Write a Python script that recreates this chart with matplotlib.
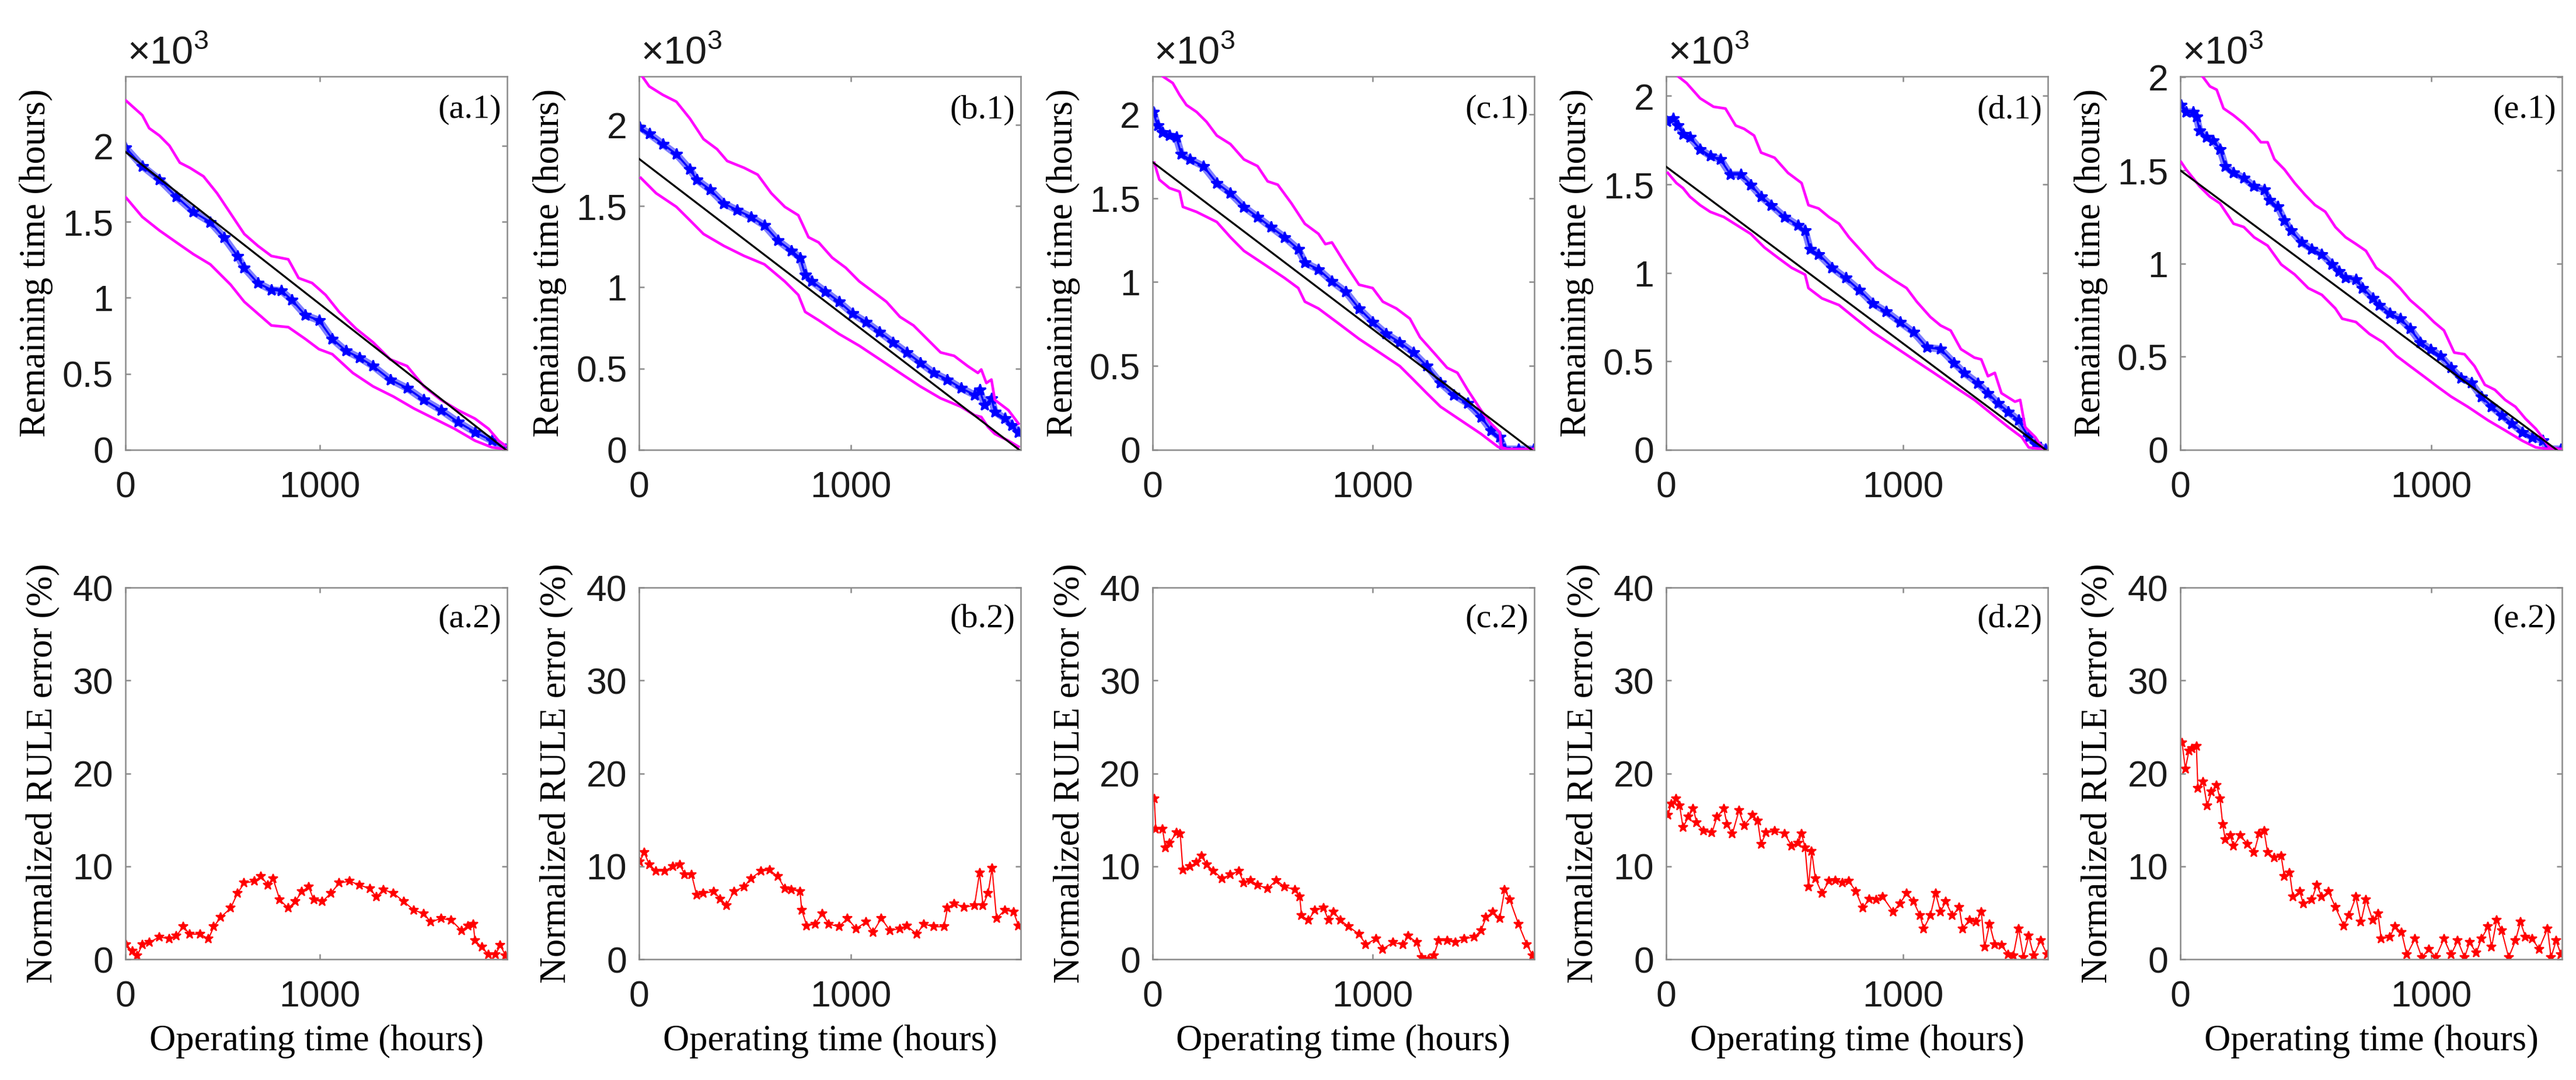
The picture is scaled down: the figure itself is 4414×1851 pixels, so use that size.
import matplotlib
matplotlib.use('Agg')
import matplotlib.pyplot as plt

plt.rcParams.update({
    'font.family': 'Liberation Sans',
    'mathtext.fontset': 'custom',
    'mathtext.rm': 'Liberation Sans',
    'axes.linewidth': 0.6,
    'axes.edgecolor': '#8a8a8a',
})

# ---------------- data (RUL in x10^3 hours, time in hours, error in %) -------------
panel_ids = ['a', 'b', 'c', 'd', 'e']

# (a) -----------------------------------------------------------------
t_pred_a = [0, 87, 175, 262, 350, 437, 507, 577, 612, 682, 752, 804, 857, 927, 997, 1066,
            1136, 1206, 1276, 1364, 1451, 1538, 1626, 1713, 1801, 1888, 1958]
pred_a = [1.989, 1.866, 1.777, 1.666, 1.565, 1.498, 1.398, 1.275, 1.197, 1.097, 1.052, 1.046,
          0.986, 0.885, 0.852, 0.729, 0.651, 0.606, 0.551, 0.462, 0.406, 0.328, 0.261, 0.183,
          0.116, 0.060, 0.004]
t_up_a = [3, 87, 122, 175, 227, 280, 332, 402, 472, 542, 612, 682, 752, 839, 892, 962, 1031,
          1101, 1189, 1276, 1364, 1451, 1538, 1626, 1713, 1801, 1871, 1923, 1958]
up_a = [2.297, 2.201, 2.116, 2.067, 2.000, 1.889, 1.855, 1.799, 1.688, 1.554, 1.420, 1.342,
        1.275, 1.253, 1.130, 1.097, 1.019, 0.907, 0.796, 0.707, 0.595, 0.551, 0.417, 0.328,
        0.261, 0.205, 0.138, 0.060, 0.027]
t_lo_a = [3, 87, 175, 262, 350, 437, 542, 612, 682, 752, 839, 927, 997, 1066, 1171, 1276,
          1381, 1486, 1591, 1696, 1801, 1888, 1958]
lo_a = [1.659, 1.532, 1.443, 1.365, 1.287, 1.220, 1.086, 0.974, 0.896, 0.818, 0.807, 0.729,
        0.662, 0.629, 0.506, 0.417, 0.350, 0.272, 0.205, 0.138, 0.060, 0.016, 0.004]
true_t_a = [0, 1960]
true_a = [1.96, 0.0]
t_err_a = [3, 35, 61, 87, 122, 175, 227, 262, 297, 332, 385, 428, 455, 490, 542, 577, 612,
           664, 699, 734, 760, 795, 839, 874, 909, 944, 970, 1014, 1058, 1101, 1154, 1206,
           1259, 1294, 1329, 1381, 1434, 1486, 1538, 1573, 1626, 1678, 1731, 1766, 1792,
           1801, 1836, 1871, 1906, 1932, 1958]
err_a = [1.6, 0.9, 0.4, 1.6, 1.8, 2.4, 2.2, 2.5, 3.5, 2.7, 2.7, 2.2, 3.5, 4.5, 5.5, 7.1, 8.2,
         8.4, 8.9, 8.0, 8.7, 6.4, 5.5, 6.2, 7.3, 7.8, 6.4, 6.2, 7.1, 8.2, 8.4, 8.0, 7.6, 6.7,
         7.5, 7.1, 6.2, 5.3, 4.9, 4.0, 4.4, 4.2, 3.1, 3.6, 3.8, 2.0, 1.3, 0.5, 0.5, 1.5, 0.4]

# (b) -----------------------------------------------------------------
t_pred_b = [3, 48, 112, 176, 240, 272, 336, 400, 464, 528, 592, 656, 720, 760, 784, 816, 880,
            944, 1008, 1072, 1136, 1200, 1264, 1328, 1392, 1456, 1520, 1584, 1608, 1632,
            1664, 1680, 1728, 1760, 1792]
pred_b = [1.985, 1.944, 1.881, 1.819, 1.725, 1.662, 1.600, 1.516, 1.474, 1.433, 1.381, 1.287,
          1.224, 1.182, 1.078, 1.036, 0.974, 0.911, 0.838, 0.786, 0.724, 0.661, 0.599, 0.536,
          0.473, 0.432, 0.380, 0.338, 0.369, 0.275, 0.317, 0.234, 0.192, 0.150, 0.108]
t_up_b = [8, 48, 112, 176, 240, 304, 368, 416, 496, 560, 624, 688, 752, 800, 848, 912, 976,
          1040, 1104, 1168, 1232, 1296, 1360, 1424, 1488, 1552, 1600, 1616, 1640, 1664, 1680,
          1744, 1792]
up_b = [2.31, 2.236, 2.184, 2.142, 2.038, 1.912, 1.850, 1.777, 1.735, 1.693, 1.579, 1.495,
        1.443, 1.308, 1.276, 1.182, 1.120, 1.036, 0.974, 0.911, 0.818, 0.765, 0.682, 0.599,
        0.578, 0.515, 0.473, 0.494, 0.411, 0.432, 0.307, 0.244, 0.161]
t_lo_b = [8, 80, 176, 240, 304, 400, 496, 592, 688, 752, 784, 848, 944, 1040, 1136, 1232,
          1328, 1424, 1520, 1584, 1616, 1648, 1680, 1744, 1792]
lo_b = [1.673, 1.579, 1.495, 1.412, 1.328, 1.255, 1.193, 1.141, 1.036, 0.953, 0.849, 0.797,
        0.713, 0.640, 0.557, 0.473, 0.390, 0.317, 0.265, 0.213, 0.202, 0.140, 0.098, 0.056,
        0.019]
true_t_b = [0, 1795]
true_b = [1.79, 0.0]
t_err_b = [3, 24, 48, 80, 120, 160, 192, 216, 248, 272, 304, 352, 384, 413, 448, 496, 528,
           576, 616, 656, 688, 720, 760, 768, 792, 832, 864, 896, 944, 984, 1024, 1072, 1104,
           1144, 1184, 1232, 1264, 1312, 1344, 1392, 1440, 1456, 1488, 1536, 1584, 1608,
           1624, 1648, 1667, 1688, 1728, 1768, 1792]
err_b = [10.5, 11.5, 10.2, 9.5, 9.5, 10.0, 10.2, 9.1, 9.1, 6.9, 7.1, 7.3, 6.5, 5.8, 7.3, 7.8,
         8.7, 9.5, 9.6, 8.9, 7.6, 7.5, 7.3, 5.3, 3.6, 3.8, 4.9, 3.8, 3.5, 4.4, 3.3, 4.0, 2.9,
         4.4, 3.1, 3.3, 3.6, 2.7, 3.8, 3.5, 3.5, 5.5, 6.0, 5.6, 5.8, 9.3, 5.8, 7.1, 9.8, 4.4,
         5.3, 5.1, 3.6]

# (c) -----------------------------------------------------------------
t_pred_c = [3, 23, 46, 77, 108, 131, 169, 231, 292, 354, 415, 477, 538, 600, 662, 692, 754,
            815, 877, 938, 1000, 1062, 1123, 1185, 1246, 1308, 1369, 1431, 1492, 1538, 1577,
            1600, 1662, 1731]
pred_c = [2.014, 1.933, 1.893, 1.873, 1.863, 1.762, 1.731, 1.691, 1.590, 1.529, 1.448, 1.388,
          1.327, 1.267, 1.196, 1.115, 1.075, 1.004, 0.943, 0.842, 0.762, 0.691, 0.640, 0.580,
          0.499, 0.398, 0.327, 0.277, 0.196, 0.115, 0.075, 0.004, 0.004, 0.004]
t_up_c = [0, 46, 92, 123, 154, 200, 246, 292, 354, 415, 477, 523, 569, 631, 692, 754, 785,
          815, 877, 938, 1000, 1046, 1108, 1169, 1215, 1277, 1338, 1385, 1431, 1492, 1538,
          1577, 1585, 1615, 1731]
up_c = [2.30, 2.226, 2.186, 2.115, 2.055, 2.014, 1.954, 1.873, 1.822, 1.731, 1.691, 1.600,
        1.580, 1.469, 1.347, 1.287, 1.226, 1.236, 1.105, 0.984, 0.964, 0.883, 0.842, 0.782,
        0.671, 0.580, 0.489, 0.459, 0.358, 0.236, 0.156, 0.105, 0.014, 0.004, 0.004]
t_lo_c = [8, 31, 77, 123, 138, 200, 292, 354, 415, 508, 600, 662, 692, 754, 846, 938, 1031,
          1123, 1185, 1246, 1308, 1400, 1492, 1569, 1600, 1731]
lo_c = [1.711, 1.610, 1.560, 1.539, 1.448, 1.418, 1.358, 1.267, 1.186, 1.105, 1.024, 0.964,
        0.883, 0.842, 0.752, 0.661, 0.580, 0.499, 0.418, 0.337, 0.257, 0.176, 0.095, 0.018,
        0.004, 0.004]
true_t_c = [0, 1722]
true_c = [1.715, 0.0]
t_err_c = [8, 15, 46, 58, 77, 108, 126, 138, 169, 200, 223, 246, 277, 315, 354, 392, 415,
           446, 477, 523, 562, 600, 646, 669, 677, 708, 738, 777, 800, 823, 854, 892, 938,
           969, 1015, 1046, 1092, 1138, 1162, 1200, 1223, 1254, 1277, 1300, 1338, 1377,
           1415, 1462, 1492, 1515, 1546, 1577, 1600, 1623, 1662, 1700, 1726]
err_c = [17.3, 14.0, 14.0, 12.0, 12.5, 13.6, 13.5, 9.6, 10.0, 10.4, 11.1, 10.2, 9.5, 8.7,
         9.1, 9.5, 8.2, 8.5, 8.0, 7.6, 8.5, 7.8, 7.5, 6.7, 4.7, 4.2, 5.3, 5.5, 4.2, 5.1, 4.2,
         3.5, 2.7, 1.6, 2.2, 1.1, 1.8, 1.6, 2.5, 1.8, 0.2, 0.0, 0.4, 2.0, 2.0, 1.8, 2.2, 2.4,
         3.1, 4.5, 5.1, 4.4, 7.5, 6.4, 3.8, 1.6, 0.4]

# (d) -----------------------------------------------------------------
t_pred_d = [3, 29, 50, 71, 100, 143, 186, 229, 271, 314, 357, 400, 443, 500, 557, 586, 607,
            643, 700, 757, 814, 871, 929, 986, 1043, 1100, 1157, 1214, 1257, 1314, 1357,
            1400, 1443, 1486, 1529, 1557, 1600]
pred_d = [1.856, 1.872, 1.833, 1.785, 1.766, 1.699, 1.661, 1.642, 1.556, 1.556, 1.498, 1.431,
          1.383, 1.316, 1.268, 1.239, 1.134, 1.105, 1.029, 0.971, 0.904, 0.828, 0.780, 0.722,
          0.665, 0.579, 0.569, 0.492, 0.435, 0.377, 0.320, 0.262, 0.215, 0.167, 0.071, 0.033,
          0.004]
t_up_d = [0, 50, 86, 143, 200, 250, 293, 329, 371, 400, 457, 514, 571, 600, 643, 686, 729,
          771, 829, 886, 957, 1014, 1057, 1114, 1157, 1200, 1243, 1300, 1329, 1357, 1386,
          1414, 1471, 1493, 1514, 1557, 1586]
up_d = [2.17, 2.111, 2.073, 1.987, 1.939, 1.929, 1.833, 1.814, 1.776, 1.680, 1.651, 1.565,
        1.508, 1.383, 1.364, 1.316, 1.278, 1.201, 1.115, 1.029, 0.962, 0.914, 0.837, 0.751,
        0.703, 0.674, 0.569, 0.521, 0.511, 0.416, 0.435, 0.320, 0.272, 0.282, 0.128, 0.071,
        0.013]
t_lo_d = [7, 43, 71, 100, 143, 186, 243, 300, 357, 414, 471, 529, 586, 600, 657, 729, 800,
          871, 957, 1043, 1129, 1214, 1300, 1371, 1443, 1500, 1529, 1586]
lo_d = [1.565, 1.508, 1.479, 1.431, 1.383, 1.345, 1.316, 1.268, 1.220, 1.144, 1.086, 1.029,
        0.990, 0.914, 0.856, 0.818, 0.741, 0.665, 0.588, 0.511, 0.435, 0.358, 0.282, 0.205,
        0.128, 0.071, 0.013, 0.004]
true_t_d = [0, 1600]
true_d = [1.60, 0.0]
t_err_d = [7, 21, 43, 57, 71, 93, 114, 129, 157, 193, 214, 243, 257, 279, 307, 329, 364, 386,
           400, 421, 457, 500, 529, 557, 571, 586, 600, 614, 629, 657, 686, 714, 743, 771,
           800, 829, 857, 886, 914, 957, 986, 1014, 1043, 1071, 1086, 1114, 1136, 1157, 1179,
           1207, 1236, 1250, 1279, 1307, 1329, 1343, 1364, 1386, 1414, 1443, 1464, 1486,
           1507, 1529, 1550, 1579, 1607]
err_d = [15.5, 16.7, 17.3, 16.5, 14.2, 15.3, 16.2, 14.7, 13.8, 13.6, 15.3, 16.2, 14.5, 13.5,
         16.0, 14.4, 15.5, 14.9, 12.4, 13.6, 13.8, 13.5, 12.2, 12.5, 13.5, 12.0, 7.8, 11.6,
         8.7, 7.1, 8.4, 8.5, 8.2, 8.4, 7.3, 5.5, 6.5, 6.4, 6.7, 5.1, 6.0, 7.1, 6.2, 4.7, 3.3,
         4.7, 7.1, 5.1, 6.2, 4.7, 5.6, 3.3, 4.2, 4.0, 5.1, 1.3, 3.8, 1.6, 1.5, 0.5, 0.4, 3.3,
         0.2, 2.5, 0.4, 2.0, 0.5]

# (e) -----------------------------------------------------------------
t_pred_e = [3, 23, 50, 64, 77, 104, 131, 158, 179, 212, 253, 294, 334, 355, 388, 415, 442,
            483, 524, 564, 605, 632, 659, 700, 727, 767, 794, 835, 876, 916, 957, 997, 1038,
            1079, 1119, 1160, 1200, 1241, 1281, 1322, 1363, 1403, 1444, 1464, 1518]
pred_e = [1.851, 1.814, 1.814, 1.787, 1.714, 1.678, 1.660, 1.614, 1.523, 1.487, 1.460, 1.414,
          1.396, 1.341, 1.305, 1.232, 1.177, 1.114, 1.077, 1.050, 0.995, 0.959, 0.923, 0.914,
          0.868, 0.813, 0.777, 0.732, 0.704, 0.650, 0.577, 0.540, 0.504, 0.440, 0.386, 0.359,
          0.286, 0.231, 0.186, 0.140, 0.095, 0.067, 0.049, 0.004, 0.004]
t_up_e = [0, 91, 118, 145, 172, 212, 253, 294, 321, 348, 375, 415, 456, 497, 537, 578, 618,
          659, 700, 740, 781, 835, 876, 916, 970, 1011, 1051, 1092, 1133, 1173, 1214, 1254,
          1295, 1336, 1376, 1417, 1444, 1471, 1518]
up_e = [2.12, 2.000, 1.951, 1.933, 1.833, 1.796, 1.751, 1.696, 1.651, 1.651, 1.560, 1.505,
        1.432, 1.369, 1.314, 1.278, 1.196, 1.141, 1.105, 1.068, 0.977, 0.923, 0.868, 0.804,
        0.741, 0.686, 0.641, 0.522, 0.513, 0.449, 0.349, 0.322, 0.268, 0.231, 0.167, 0.113,
        0.067, 0.013, 0.004]
t_lo_e = [3, 23, 50, 77, 118, 158, 212, 253, 294, 348, 402, 456, 510, 564, 618, 645, 700,
          754, 808, 862, 916, 970, 1024, 1079, 1146, 1227, 1295, 1363, 1417, 1471, 1518]
lo_e = [1.545, 1.505, 1.460, 1.414, 1.359, 1.323, 1.214, 1.196, 1.141, 1.096, 0.995, 0.941,
        0.868, 0.832, 0.759, 0.704, 0.686, 0.622, 0.577, 0.504, 0.449, 0.395, 0.340, 0.286,
        0.231, 0.158, 0.104, 0.049, 0.013, 0.004, 0.004]
true_t_e = [0, 1500]
true_e = [1.50, 0.0]
t_err_e = [7, 20, 34, 47, 64, 70, 91, 107, 124, 145, 158, 169, 179, 199, 212, 240, 267, 294,
           314, 334, 348, 375, 402, 415, 436, 449, 476, 490, 524, 544, 564, 591, 618, 652,
           672, 700, 720, 740, 767, 788, 801, 835, 855, 882, 903, 936, 963, 991, 1018, 1051,
           1079, 1106, 1133, 1153, 1180, 1200, 1227, 1241, 1261, 1281, 1309, 1336, 1356,
           1376, 1403, 1430, 1464, 1478, 1498, 1518]
err_e = [23.3, 20.5, 22.4, 22.7, 22.9, 18.4, 19.1, 16.5, 18.0, 18.7, 17.3, 14.5, 12.9, 13.3,
         12.2, 13.3, 12.4, 11.5, 13.5, 13.8, 11.5, 10.9, 11.1, 8.9, 9.3, 6.7, 7.3, 6.0, 6.4,
         8.0, 6.7, 7.3, 5.6, 3.6, 4.7, 6.7, 4.0, 6.4, 4.2, 4.9, 2.2, 2.4, 3.5, 2.9, 0.5, 2.2,
         0.2, 1.1, 0.2, 2.2, 0.5, 2.0, 0.2, 1.8, 0.7, 2.2, 3.5, 1.3, 4.2, 3.1, 0.2, 2.0, 4.0,
         2.4, 2.2, 1.1, 3.3, 0.2, 2.0, 0.5]

# axis ranges
x_max = [1967, 1803, 1734, 1610, 1522]
rul_max = [2.457, 2.298, 2.226, 2.111, 2.005]
rul_ticks = [0, 0.5, 1, 1.5, 2]
rul_ticklabels = ['0', '0.5', '1', '1.5', '2']
err_ticks = [0, 10, 20, 30, 40]

pred_t = [t_pred_a, t_pred_b, t_pred_c, t_pred_d, t_pred_e]
pred = [pred_a, pred_b, pred_c, pred_d, pred_e]
up_t = [t_up_a, t_up_b, t_up_c, t_up_d, t_up_e]
up = [up_a, up_b, up_c, up_d, up_e]
lo_t = [t_lo_a, t_lo_b, t_lo_c, t_lo_d, t_lo_e]
lo = [lo_a, lo_b, lo_c, lo_d, lo_e]
tr_t = [true_t_a, true_t_b, true_t_c, true_t_d, true_t_e]
tr = [true_a, true_b, true_c, true_d, true_e]
er_t = [t_err_a, t_err_b, t_err_c, t_err_d, t_err_e]
er = [err_a, err_b, err_c, err_d, err_e]

# ---------------- figure ----------------
SERIF = ['Liberation Serif', 'DejaVu Serif']
TICK_C = '#1a1a1a'
fig = plt.figure(figsize=(14.7134, 6.1702), dpi=300)
lefts = [0.0487, 0.2481, 0.4474, 0.6468, 0.8464]
W = 0.1482


def style(ax):
    ax.tick_params(direction='in', length=2.2, width=0.6, color='#8a8a8a',
                   labelsize=15, labelcolor=TICK_C, top=True, right=True)
    ax.tick_params(axis='x', pad=8.5)
    ax.tick_params(axis='y', pad=5)


for i, p in enumerate(panel_ids):
    # --- RUL prediction ---
    ax = fig.add_axes([lefts[i], 0.5835, W, 0.3458])
    ax.plot(pred_t[i], pred[i], '-', color='blue', lw=3.0, alpha=0.5, zorder=2)
    ax.plot(pred_t[i], pred[i], '-*', color='blue', lw=0.8, ms=5, mew=0.7, zorder=2)
    ax.plot(up_t[i], up[i], color='magenta', lw=1.1, zorder=3)
    ax.plot(lo_t[i], lo[i], color='magenta', lw=1.1, zorder=3)
    ax.plot(tr_t[i], tr[i], color='black', lw=0.8, zorder=4)
    ax.set_xlim(0, x_max[i])
    ax.set_ylim(0, rul_max[i])
    ax.set_xticks([0, 1000])
    ax.set_yticks(rul_ticks)
    ax.set_yticklabels(rul_ticklabels)
    style(ax)
    ax.set_ylabel('Remaining time (hours)', family=SERIF, fontsize=15)
    ax.yaxis.set_label_coords(-0.19, 0.5)
    ax.text(0.004, 1.034, r'$\mathregular{\times10^{3}}$', transform=ax.transAxes,
            ha='left', va='baseline', fontsize=16, color=TICK_C)
    ax.text(0.985, 0.91, f'({p}.1)', transform=ax.transAxes, ha='right', va='center',
            family=SERIF, fontsize=14)

    # --- normalized error ---
    ax2 = fig.add_axes([lefts[i], 0.1118, W, 0.3441])
    ax2.plot(er_t[i], er[i], '-*', color='red', lw=0.5, ms=4, mew=0.5)
    ax2.set_xlim(0, x_max[i])
    ax2.set_ylim(0, 40)
    ax2.set_xticks([0, 1000])
    ax2.set_yticks(err_ticks)
    style(ax2)
    ax2.set_ylabel('Normalized RULE error (%)', family=SERIF, fontsize=15)
    ax2.yaxis.set_label_coords(-0.17, 0.5)
    ax2.set_xlabel('Operating time (hours)', family=SERIF, fontsize=15)
    ax2.xaxis.set_label_coords(0.5, -0.175)
    ax2.text(0.985, 0.915, f'({p}.2)', transform=ax2.transAxes, ha='right', va='center',
             family=SERIF, fontsize=14)

fig.savefig('out.png', dpi=300)
